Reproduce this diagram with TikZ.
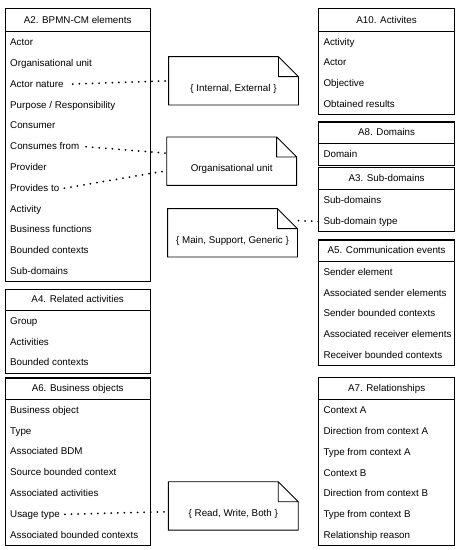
\documentclass[tikz,border=0pt]{standalone}
\usepackage{fontspec}
\setmainfont{Liberation Sans}
\usetikzlibrary{calc}
\tikzset{
  base/.style={font=\fontsize{9.8}{12}\selectfont, text height=7.5pt, text depth=1.5pt},
  hdr/.style={base, draw=black, line width=0.9pt, inner sep=0pt, anchor=north west},
  rowtext/.style={base, inner xsep=5pt, inner ysep=0pt, anchor=west},
  outline/.style={draw=black, line width=0.9pt},
  note/.style={font=\fontsize{9.8}{12}\selectfont, minimum width=129.5pt, minimum height=48pt,
    inner sep=0pt, text height=21pt, text depth=0pt},
  notebox/.style={draw=black, line width=0.9pt, line join=miter},
  dotline/.style={line width=2pt, dash pattern=on 0pt off 6.6pt, line cap=round}
}
\newcommand\mkentity[8]{%
  \node[hdr, minimum width=#4pt, minimum height=#5pt] (#1) at (#2,#3) {#6};
  \foreach \rt [count=\ri] in {#8}{
    \node[rowtext] (#1-\ri) at ($(#1.south west)+(0,{(\ri-0.5)*20.8})$) {\rt};
  }
  \draw[outline] (#1.north west) rectangle ($(#1.south east)+(0,{#7*20.8})$);
}
\begin{document}
\begin{tikzpicture}[x=1pt,y=-1pt]
\useasboundingbox (0,0) rectangle (467,550);
\mkentity{a2}{5}{8.3}{144.5}{23}{A2. BPMN-CM elements}{12}{Actor,Organisational unit,Actor nature,Purpose / Responsibility,Consumer,Consumes from,Provider,Provides to,Activity,Business functions,Bounded contexts,Sub-domains}
\mkentity{a4}{5}{289}{144.5}{21}{A4. Related activities}{3}{Group,Activities,Bounded contexts}
\mkentity{a6}{5}{377.7}{144.5}{21.3}{A6. Business objects}{7}{Business object,Type,Associated BDM,Source bounded context,Associated activities,Usage type,Associated bounded contexts}
\mkentity{a10}{318.3}{8.3}{135.7}{22.5}{A10. Activites}{4}{Activity,Actor,Objective,Obtained results}
\mkentity{a8}{318.3}{121.7}{135.7}{21.6}{A8. Domains}{1}{Domain}
\mkentity{a3}{318.3}{167.3}{135.7}{22}{A3. Sub-domains}{2}{Sub-domains,Sub-domain type}
\mkentity{a5}{318.3}{239.5}{135.7}{21.5}{A5. Communication events}{5}{Sender element,Associated sender elements,Sender bounded contexts,Associated receiver elements,Receiver bounded contexts}
\mkentity{a7}{318.3}{377.3}{135.7}{22}{A7. Relationships}{7}{Context A,Direction from context A,Type from context A,Context B,Direction from context B,Type from context B,Relationship reason}

\node[note] (n1) at (233.5,80.8) {\{ Internal, External \}};
\node[note] (n2) at (231.7,161.2) {Organisational unit};
\node[note] (n3) at (232.5,232.8) {\{ Main, Support, Generic \}};
\node[note] (n4) at (233.3,505.9) {\{ Read, Write, Both \}};
\foreach \n in {n1,n2,n3,n4}{
  \draw[notebox] (\n.north west) -- ([xshift=-20pt]\n.north east) -- ([yshift=-20pt]\n.north east)
    -- (\n.south east) -- (\n.south west) -- cycle
    ([xshift=-20pt]\n.north east) |- ([yshift=-20pt]\n.north east);
}

\draw[dotline, shorten <=4pt] (a2-3.east) -- (n1.west);
\draw[dotline, shorten <=1.5pt] (a2-6.east) -- ([yshift=8pt]n2.west);
\draw[dotline] (a2-8.east) -- ([yshift=-9.5pt]n2.west);
\draw[dotline] (a3-2.west) -- ([yshift=-12pt]n3.north east);
\draw[dotline] (a6-6.east) -- ([yshift=-5.8pt]n4.west);
\end{tikzpicture}
\end{document}
